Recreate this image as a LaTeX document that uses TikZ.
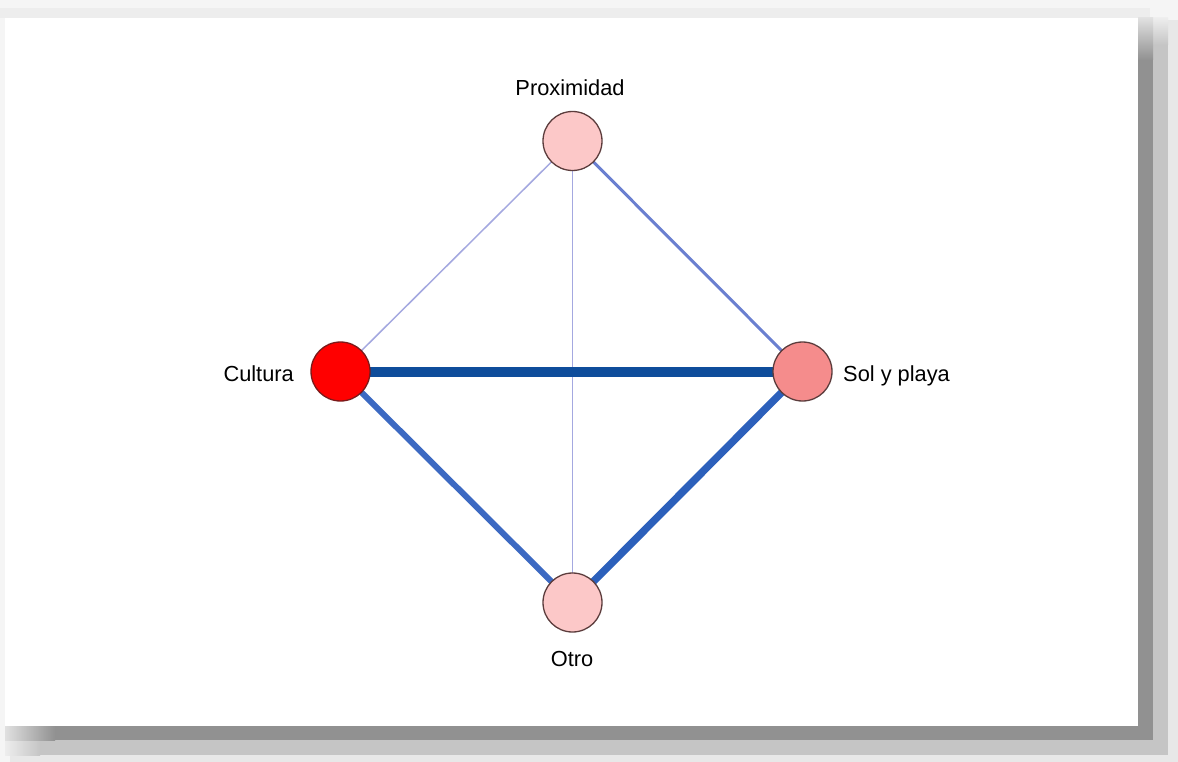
\documentclass[tikz,border=0pt]{standalone}
\usepackage{fontspec}
\setmainfont{Liberation Sans}
\pgfdeclarelayer{back}
\pgfdeclarelayer{bg}
\pgfsetlayers{back,bg,main}
\definecolor{cpale}{HTML}{FCC8C8}
\definecolor{cred}{HTML}{FF0000}
\definecolor{csol}{HTML}{F58C8C}
\definecolor{cbord}{HTML}{5B3C3C}
\definecolor{credbord}{HTML}{7A1A1A}
\definecolor{eA}{HTML}{0E4D9B}
\definecolor{eB}{HTML}{2C60BB}
\definecolor{eC}{HTML}{3C69C2}
\definecolor{eD}{HTML}{6A7FD0}
\definecolor{eE}{HTML}{A4A8E0}
\definecolor{sdark}{HTML}{919191}
\definecolor{slight}{HTML}{C5C5C5}
\definecolor{souter}{HTML}{E8E8E8}
\tikzset{
  vert/.style={circle, draw=cbord, line width=1.3pt, minimum size=59pt, inner sep=0pt},
  lbl/.style={font=\fontsize{21.8}{24}\selectfont, inner sep=0pt, text=black},
  edge/.style={line cap=butt},
}
\begin{document}
\begin{tikzpicture}[x=1pt,y=-1pt]
\useasboundingbox (0,0) rectangle (1178,762);
\begin{pgfonlayer}{back}
% background and shadow
\fill[white!96!black] (0,0) rectangle (1178,762);
\fill[white!93!black] (0,8) rectangle (1150,18);
\fill[souter] (1167,20) rectangle (1178,762);
\fill[souter] (10,755) rectangle (1178,762);
\shade[top color=white!93!black, bottom color=slight] (1153,18) rectangle (1168,45);
\fill[slight] (1153,45) rectangle (1168,755);
\shade[left color=white!93!black, right color=slight] (5,740) rectangle (40,755);
\fill[slight] (40,740) rectangle (1168,755);
\shade[top color=white!88!black, bottom color=sdark] (1138,18) rectangle (1153,60);
\fill[sdark] (1138,60) rectangle (1153,740);
\shade[left color=white!88!black, right color=sdark] (5,726) rectangle (55,740);
\fill[sdark] (55,726) rectangle (1153,740);
\fill[white] (5,18) rectangle (1138,726);
\end{pgfonlayer}
% nodes
\node[vert, fill=cpale] (prox) at (572.5,141) {};
\node[vert, fill=cred, draw=credbord] (cult) at (340.5,371.5) {};
\node[vert, fill=csol] (sol) at (802.5,371.5) {};
\node[vert, fill=cpale] (otro) at (572.5,602.5) {};
% labels
\node[lbl, anchor=base] (lprox) at (570,96) {Proximidad};
\node[lbl, anchor=base east] (lcult) at (294,381) {Cultura};
\node[lbl, anchor=base west] (lsol) at (843,381) {Sol y playa};
\node[lbl, anchor=base] (lotro) at (572,666) {Otro};
% edges
\begin{pgfonlayer}{bg}
\draw[edge, eE, line width=1.5pt] (prox.center) -- (cult.center);
\draw[edge, eE, line width=1.5pt] (prox.center) -- (otro.center);
\draw[edge, eD, line width=3pt] (prox.center) -- (sol.center);
\draw[edge, eC, line width=6pt] (cult.center) -- (otro.center);
\draw[edge, eB, line width=7.5pt] (sol.center) -- (otro.center);
\draw[edge, eA, line width=10pt] (cult.center) -- (sol.center);
\end{pgfonlayer}
\end{tikzpicture}
\end{document}
